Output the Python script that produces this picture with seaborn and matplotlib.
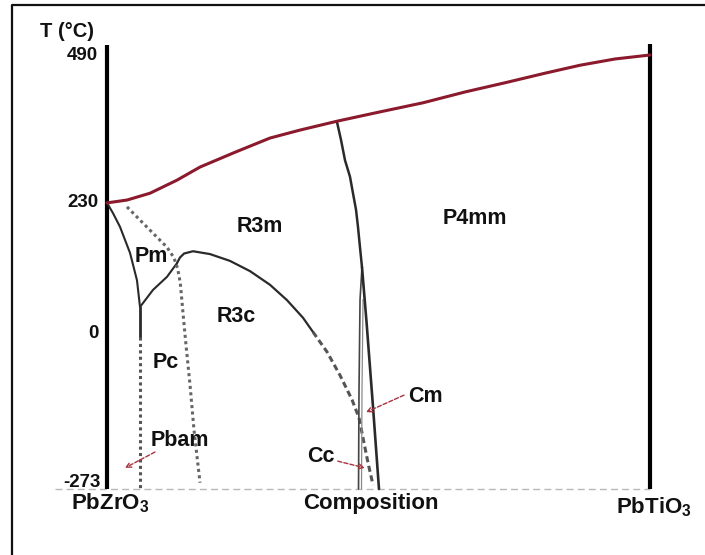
import matplotlib
matplotlib.use("Agg")
import matplotlib.pyplot as plt
import seaborn as sns
import pandas as pd

# ---- PZT phase diagram data (composition = Ti fraction, temperature in °C) ----
curie_x = [0.0, 0.0368, 0.0792, 0.1289, 0.1713, 0.2357, 0.3002, 0.3554, 0.4254,
           0.5028, 0.5820, 0.6593, 0.7366, 0.8066, 0.8711, 0.9355, 1.0]
curie_t = [230, 235, 247, 270, 293, 319, 344, 358, 374,
           390, 406, 425, 442, 458, 472, 483, 490]

mpb_top_x = [0.4236, 0.4309, 0.4383, 0.4475, 0.4530, 0.4586, 0.4622, 0.4659, 0.4696]
mpb_top_t = [372, 341, 305, 276, 247, 218, 188, 152, 117]
mpb_left_x = [0.4696, 0.4660, 0.4641, 0.4632]
mpb_left_t = [117, 60, -100, -273]
mpb_right_x = [0.4696, 0.4780, 0.4900, 0.5009]
mpb_right_t = [117, 20, -130, -273]

pm_left_x = [0.0, 0.0110, 0.0239, 0.0424, 0.0552, 0.0608]
pm_left_t = [230, 212, 188, 142, 94, 47]
pm_low_x = [0.0608, 0.0847, 0.1105, 0.1289]
pm_low_t = [47, 77, 100, 124]
pbam_solid_x = [0.0608, 0.0608]
pbam_solid_t = [47, -6]
pbam_dot_x = [0.0608, 0.0608]
pbam_dot_t = [-6, -273]

tilt_x = [0.0368, 0.0792, 0.1105, 0.1230, 0.1300, 0.1350, 0.1400, 0.1455, 0.1529,
          0.1602, 0.1713]
tilt_t = [223, 182, 152, 134, 115, 89, 36, -20, -90, -169, -262]

dome_x = [0.1289, 0.1344, 0.1420, 0.1584, 0.1897, 0.2265, 0.2634, 0.3002, 0.3315,
          0.3610, 0.3794]
dome_t = [124, 134, 141, 145, 140, 128, 110, 86, 59, 28, 3]
dome_dash_x = [0.3794, 0.4052, 0.4291, 0.4512, 0.4641, 0.4733, 0.4807, 0.4899]
dome_dash_t = [3, -32, -73, -116, -148, -192, -227, -266]

tick_values = [490, 230, 0, -273]
end_members = ["PbZrO$_\\mathbf{3}$", "PbTiO$_\\mathbf{3}$"]
axis_title = "Composition"
t_label = "T (°C)"

phases = ["R3m", "P4mm", "Pm", "R3c", "Pc"]
phase_x = [0.2818, 0.678, 0.081, 0.2376, 0.1087]
phase_t = [189, 203, 135, 31, -50]

callouts = ["Pbam", "Cc", "Cm"]
callout_xy = [(0.1344, -187), (0.394, -215), (0.5856, -111)]
callout_tail = [(0.0884, -208), (0.425, -224), (0.547, -108)]
callout_head = [(0.033, -236), (0.475, -236), (0.477, -138)]

# ---- style ----
sns.set_style("white")
plt.rcParams["font.family"] = ["Liberation Sans", "DejaVu Sans"]
plt.rcParams["mathtext.fontset"] = "custom"
plt.rcParams["mathtext.rm"] = "Liberation Sans"
plt.rcParams["mathtext.bf"] = "Liberation Sans:bold"

MAROON = "#8a1a2c"
ARROW = "#a8323f"
INK = "#2a2a2a"
TXT = "#111111"

fig = plt.figure(figsize=(7.05, 5.55), dpi=100)
ax = fig.add_axes([0, 0, 1, 1])
ax.set_xlim(-0.19705, 1.10129)
ax.set_ylim(-389.05, 586.7)
ax.axis("off")


def curve(x, t, **kw):
    df = pd.DataFrame({"x": x, "t": t})
    sns.lineplot(data=df, x="x", y="t", sort=False, estimator=None, ax=ax,
                 legend=False, **kw)


# outer frame (left and top edges)
ax.plot([-0.1750, -0.1750, 1.2], [-500, 577.7, 577.7], color="#111111",
        lw=1.6, solid_capstyle="butt")

# baseline at absolute zero
curve([-0.0958, 1.0], [-273, -273], color="#b8b8b8", lw=1.0,
      linestyle=(0, (5, 3)))

# end-member axes
top_t = 508
ax.plot([0, 0], [-273, top_t], color="black", lw=3.0, solid_capstyle="butt")
ax.plot([1, 1], [-273, top_t + 2], color="black", lw=3.0, solid_capstyle="butt")

# phase boundaries
curve(pm_left_x, pm_left_t, color=INK, lw=1.5)
curve(pm_low_x, pm_low_t, color=INK, lw=1.5)
curve(pbam_solid_x, pbam_solid_t, color=INK, lw=2.0)
curve(pbam_dot_x, pbam_dot_t, color="#555555", lw=2.2, linestyle=(0, (1.0, 1.1)))
curve(tilt_x, tilt_t, color="#666666", lw=2.2, linestyle=(0, (1.0, 1.1)))
curve(dome_x, dome_t, color=INK, lw=1.6)
curve(dome_dash_x, dome_dash_t, color="#555555", lw=2.2, linestyle=(0, (2.0, 1.2)))
curve(mpb_top_x, mpb_top_t, color=INK, lw=1.8)
curve(mpb_left_x, mpb_left_t, color="#444444", lw=1.2)
curve([v + 0.0055 for v in mpb_left_x[1:]], mpb_left_t[1:], color="#8a8a8a", lw=0.9)
curve(mpb_right_x, mpb_right_t, color=INK, lw=1.9)
curve(curie_x, curie_t, color=MAROON, lw=2.2)

# temperature labels
for v in tick_values:
    va = "bottom" if v < 0 else "center"
    ax.text(-0.016 if v >= 0 else -0.012, v - (3 if v < 0 else 0), str(v),
            ha="right", va=va, fontsize=13.5, fontweight="bold", color=TXT)
ax.text(-0.0737, 531, t_label, ha="center", va="center", fontsize=14.5,
        fontweight="bold", color=TXT)

# composition axis labels
ax.text(0.005, -278, end_members[0], ha="center", va="top", fontsize=16,
        fontweight="bold", color=TXT)
ax.text(0.486, -280, axis_title, ha="center", va="top", fontsize=16,
        fontweight="bold", color=TXT)
ax.text(1.007, -285, end_members[1], ha="center", va="top", fontsize=16,
        fontweight="bold", color=TXT)

# phase field labels
for name, px, pt in zip(phases, phase_x, phase_t):
    ax.text(px, pt, name, ha="center", va="center", fontsize=15.5,
            fontweight="bold", color=TXT)

# callouts for narrow phase fields
for name, xy, tail, head in zip(callouts, callout_xy, callout_tail, callout_head):
    ax.text(xy[0], xy[1], name, ha="center", va="center", fontsize=15.5,
            fontweight="bold", color=TXT)
    ax.annotate("", xy=head, xytext=tail,
                arrowprops=dict(arrowstyle="->", color=ARROW, lw=1.0,
                                linestyle=(0, (3, 1.5)), shrinkA=0, shrinkB=0,
                                mutation_scale=9))

fig.savefig("out.png", dpi=100)
